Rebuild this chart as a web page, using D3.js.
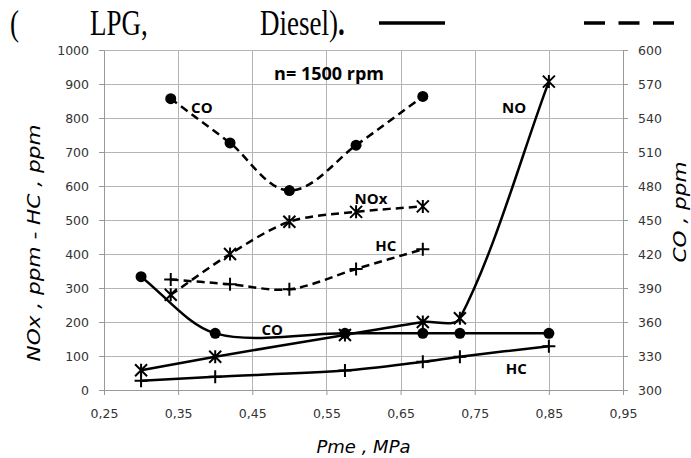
<!DOCTYPE html>
<html lang="en">
<head>
<meta charset="UTF-8">
<title>Emissions vs Pme</title>
<script src="https://d3js.org/d3.v7.min.js"></script>
<style>
    body { margin: 0; padding: 0; background: #fff; }
    svg { display: block; }
    .tick text { font-family: "DejaVu Sans", sans-serif; font-size: 12.5px; fill: #333; }
    .axis-title { font-family: "DejaVu Sans", sans-serif; font-style: italic; font-size: 18px; fill: #000; }
    .lbl { font-family: "Open Sans", sans-serif; font-weight: 700; font-size: 15px; fill: #000; }
    .caption { font-family: "Liberation Serif", serif; font-size: 27px; fill: #000; }
</style>
</head>
<body>
<svg width="691" height="458"></svg>
<script>
    // pressure (MPa) for each engine
    const pmeLPG = [0.30, 0.40, 0.575, 0.68, 0.73, 0.85];
    const pmeDiesel = [0.34, 0.42, 0.50, 0.59, 0.68];

    // LPG (solid lines)
    const noLPG = [58, 98, 162, 200, 211, 907];
    const hcLPG = [27, 39, 57, 83, 98, 129];
    const coLPG = [400, 350, 350, 350, 350, 350];   // right axis

    // Diesel (dashed lines)
    const noxDiesel = [280, 400, 495, 524, 540];
    const hcDiesel = [325, 311, 296, 356, 414];
    const coDiesel = [557, 518, 476, 516, 559];     // right axis

    const xTicks = [0.25, 0.35, 0.45, 0.55, 0.65, 0.75, 0.85, 0.95];
    const yTicks = [0, 100, 200, 300, 400, 500, 600, 700, 800, 900, 1000];
    const y2Ticks = [300, 330, 360, 390, 420, 450, 480, 510, 540, 570, 600];

    // text labels inside the plot, in data units (MPa, left-axis ppm)
    const notes = [
        { t: "n= 1500 rpm", x: 0.5535, y: 912, size: 18 },
        { t: "CO", x: 0.382, y: 815 },
        { t: "NOx", x: 0.610, y: 547 },
        { t: "HC", x: 0.630, y: 409 },
        { t: "CO", x: 0.477, y: 162 },
        { t: "NO", x: 0.803, y: 815 },
        { t: "HC", x: 0.806, y: 47 }
    ];

    const svg = d3.select("svg");
    const pl = 104, pr = 623, pt = 50, pb = 390;

    const x = d3.scaleLinear().domain([0.25, 0.95]).range([pl, pr]);
    const y = d3.scaleLinear().domain([0, 1000]).range([pb, pt]);
    const y2 = d3.scaleLinear().domain([300, 600]).range([pb, pt]);

    const comma = v => d3.format(".2f")(v).replace(".", ",");

    // grid
    const grid = svg.append("g").attr("stroke", "#b4b4b4").attr("stroke-width", 1);
    grid.selectAll(".h").data(yTicks).join("line").attr("class", "h")
        .attr("x1", pl).attr("x2", pr)
        .attr("y1", d => Math.round(y(d)) + 0.5).attr("y2", d => Math.round(y(d)) + 0.5);
    grid.selectAll(".v").data(xTicks).join("line").attr("class", "v")
        .attr("y1", pt).attr("y2", pb)
        .attr("x1", d => Math.round(x(d)) + 0.5).attr("x2", d => Math.round(x(d)) + 0.5);

    // axes
    function styleAxis(g) {
        g.select(".domain").attr("stroke", "#999");
        g.selectAll(".tick line").attr("stroke", "#999");
    }
    svg.append("g").attr("transform", `translate(0,${pb})`)
        .call(d3.axisBottom(x).tickValues(xTicks).tickFormat(comma).tickSize(5).tickPadding(14).tickSizeOuter(0))
        .call(styleAxis);
    svg.append("g").attr("transform", `translate(${pl},0)`)
        .call(d3.axisLeft(y).tickValues(yTicks).tickFormat(d3.format("d")).tickSize(5).tickPadding(10).tickSizeOuter(0))
        .call(styleAxis);
    svg.append("g").attr("transform", `translate(${pr},0)`)
        .call(d3.axisRight(y2).tickValues(y2Ticks).tickFormat(d3.format("d")).tickSize(5).tickPadding(10).tickSizeOuter(0))
        .call(styleAxis);
    svg.selectAll(".tick text").attr("fill", "#333");

    // excel-like smoothing: tangent along neighbours, handle length scaled by each segment
    function smooth(pts, k) {
        const n = pts.length;
        const tan = pts.map((P, i) => {
            const a = pts[Math.max(0, i - 1)], b = pts[Math.min(n - 1, i + 1)];
            const dx = b[0] - a[0], dy = b[1] - a[1], L = Math.hypot(dx, dy) || 1;
            return [dx / L, dy / L];
        });
        const p = d3.path();
        p.moveTo(pts[0][0], pts[0][1]);
        for (let i = 0; i < n - 1; i++) {
            const A = pts[i], B = pts[i + 1];
            const d = Math.hypot(B[0] - A[0], B[1] - A[1]) * k;
            p.bezierCurveTo(A[0] + tan[i][0] * d, A[1] + tan[i][1] * d,
                            B[0] - tan[i + 1][0] * d, B[1] - tan[i + 1][1] * d,
                            B[0], B[1]);
        }
        return p.toString();
    }

    // series
    const series = [
        { xs: pmeLPG, ys: noLPG, scale: y, dash: null, mark: "star" },
        { xs: pmeLPG, ys: hcLPG, scale: y, dash: null, mark: "plus" },
        { xs: pmeLPG, ys: coLPG, scale: y2, dash: null, mark: "dot" },
        { xs: pmeDiesel, ys: noxDiesel, scale: y, dash: "8,5", mark: "star" },
        { xs: pmeDiesel, ys: hcDiesel, scale: y, dash: "8,5", mark: "plus" },
        { xs: pmeDiesel, ys: coDiesel, scale: y2, dash: "8,5", mark: "dot" }
    ];

    series.forEach(s => {
        const pts = s.xs.map((v, i) => [x(v), s.scale(s.ys[i])]);
        svg.append("path")
            .attr("d", smooth(pts, 0.3))
            .attr("fill", "none")
            .attr("stroke", "#000")
            .attr("stroke-width", 2.5)
            .attr("stroke-dasharray", s.dash);

        const g = svg.append("g");
        pts.forEach(p => {
            if (s.mark === "dot") {
                g.append("circle").attr("cx", p[0]).attr("cy", p[1]).attr("r", 5.5).attr("fill", "#000");
            } else {
                const r = 6.5;
                let d = `M${p[0]},${p[1] - r}V${p[1] + r}`;
                if (s.mark === "star") {
                    d += `M${p[0] - 6},${p[1] - 6}L${p[0] + 6},${p[1] + 6}`
                       + `M${p[0] - 6},${p[1] + 6}L${p[0] + 6},${p[1] - 6}`;
                } else {
                    d += `M${p[0] - r},${p[1]}H${p[0] + r}`;
                }
                g.append("path").attr("d", d).attr("stroke", "#000").attr("stroke-width", 2).attr("fill", "none");
            }
        });
    });

    // labels
    svg.selectAll(".lbl").data(notes).join("text")
        .attr("class", "lbl")
        .attr("x", d => x(d.x)).attr("y", d => y(d.y))
        .attr("text-anchor", "middle")
        .style("font-size", d => (d.size || 15) + "px")
        .text(d => d.t);

    // axis titles
    svg.append("text").attr("class", "axis-title")
        .attr("x", (pl + pr) / 2).attr("y", 453).attr("text-anchor", "middle")
        .text("Pme , MPa");
    svg.append("text").attr("class", "axis-title")
        .attr("transform", "translate(40,243) rotate(-90) scale(1.2,1)").attr("text-anchor", "middle")
        .text("NOx , ppm - HC , ppm");
    svg.append("text").attr("class", "axis-title")
        .attr("transform", "translate(686,212) rotate(-90) scale(1.2,1)").attr("text-anchor", "middle")
        .text("CO , ppm");

    // caption line at the top
    const cap = svg.append("g");
    const capText = (tx, html) => cap.append("text").attr("class", "caption")
        .attr("transform", `translate(${tx},35) scale(1,1.3)`).html(html);
    capText(10, "(");
    capText(90, "LPG,");
    capText(260, 'Diesel)<tspan font-weight="bold">.</tspan>');
    cap.append("line").attr("x1", 379).attr("x2", 445).attr("y1", 23).attr("y2", 23)
        .attr("stroke", "#000").attr("stroke-width", 3.5);
    cap.append("line").attr("x1", 584).attr("x2", 674).attr("y1", 23).attr("y2", 23)
        .attr("stroke", "#000").attr("stroke-width", 3.5).attr("stroke-dasharray", "21,13.5");
</script>
</body>
</html>
